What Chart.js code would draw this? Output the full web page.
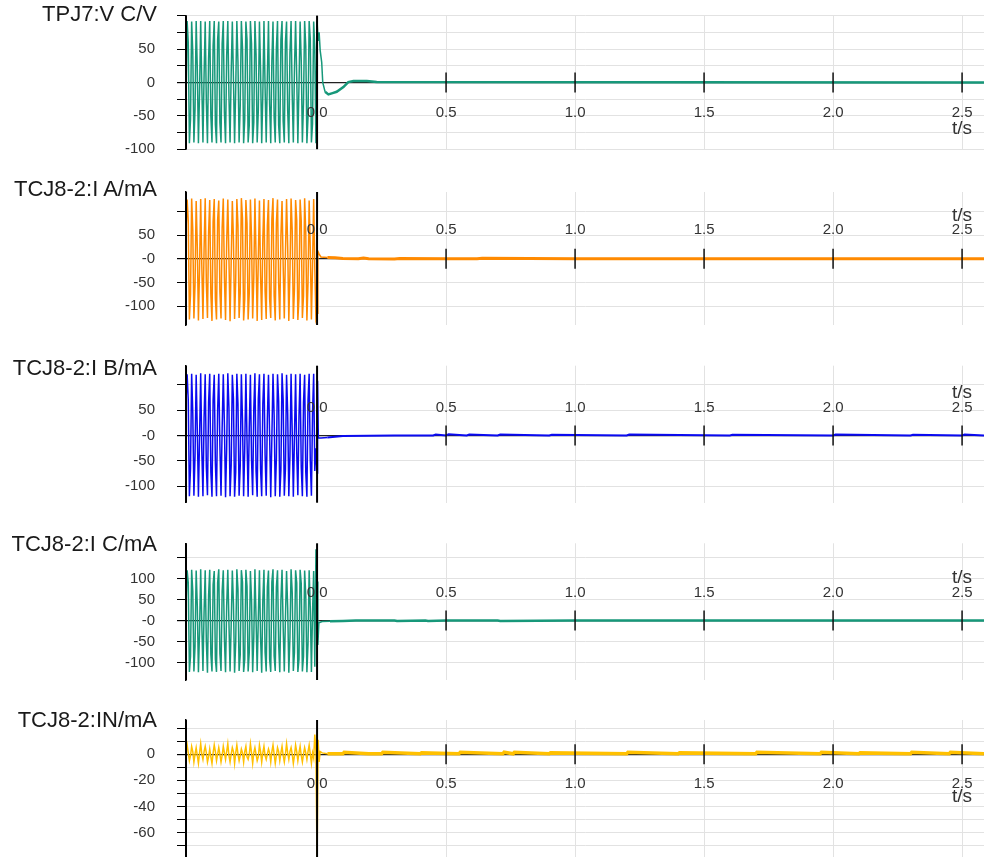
<!DOCTYPE html>
<html><head><meta charset="utf-8">
<script src="https://cdn.jsdelivr.net/npm/chart.js@4.4.1/dist/chart.umd.min.js"></script>
<style>
html,body{margin:0;padding:0;width:984px;height:857px;overflow:hidden;background:#fff;}
canvas{position:absolute;left:0;}
.ttl{position:absolute;right:827px;font-family:"Liberation Sans",Arial,sans-serif;font-size:22px;line-height:22px;color:#1a1a1a;white-space:nowrap;z-index:5;}
</style></head><body>
<script>
// ---------- data ----------
const panelTitles = ['TPJ7:V C/V', 'TCJ8-2:I A/mA', 'TCJ8-2:I B/mA', 'TCJ8-2:I C/mA', 'TCJ8-2:IN/mA'];
const xTickValues = [0, 0.5, 1.0, 1.5, 2.0, 2.5];
const xTickLabels = ['0.0', '0.5', '1.0', '1.5', '2.0', '2.5'];
const xUnitLabel = 't/s';
const xMin = -0.508, xMax = 2.585;
const preStart = -0.508, preEnd = 0;   // pre-fault samples are evenly spaced over this span

// TPJ7:V C
const vcPre = [-30,
 92,60,-91,-55, 91,45,-90,-40, 92,20,-91,-15, 92,-5,-90,10, 91,-30,-91,35,
 92,-50,-90,55, 92,-63,-91,64, 91,-60,-90,58, 92,-45,-91,40, 92,-20,-90,15,
 91,5,-91,-10, 92,30,-90,-35, 92,52,-91,-55, 91,64,-90,-64, 92,58,-91,-60,
 92,42,-90,-42, 91,18,-91,-18, 92,-8,-90,8, 92,-32,-91,32, 91,-52,-90,52,
 92,-64,-91,64, 92,-58,-90,60, 91,-42,-91,44, 92,-18,-90,20, 92,8,-91,-5,
 91,32,-90,-30, 92,54,-91,-52, 92,65,-90,-62, 91,50,-91,92];
const vcPostT = [0.004, 0.008, 0.012, 0.018, 0.022, 0.031, 0.044, 0.06, 0.076, 0.102, 0.121, 0.141, 0.193, 0.231, 2.585];
const vcPostV = [62, 75, 48, 30, 0, -14, -18, -16, -14, -7, 0.5, 2, 2, 0.5, 0];

// TCJ8-2:I A
const iaPre = [55,
 125,80,-128,-75, 127,60,-126,-55, 122,25,-130,-20, 126,-15,-127,20, 128,-50,-125,55,
 124,-75,-131,78, 126,-85,-128,82, 123,-70,-126,65, 127,-40,-129,35, 125,0,-132,-5,
 122,40,-127,-45, 126,70,-125,-72, 128,85,-130,-85, 124,75,-128,-72, 125,45,-126,-40,
 127,5,-131,0, 123,-35,-129,40, 126,-68,-127,70, 124,-84,-125,84, 128,-78,-130,75,
 125,-52,-128,48, 122,-15,-126,10, 126,25,-131,-30, 127,60,-127,-62, 124,82,-129,-82,
 125,80,-125,-78, 128,55,-130,-50, 123,20,-128,-15, 126,-20,-126,-115];
const iaPostT = [0.003, 0.008, 0.015, 0.04, 0.07, 0.1, 0.16, 0.18, 0.2, 0.3, 0.32, 0.5, 0.62, 0.64, 1.0, 1.5, 2.0, 2.585];
const iaPostV = [16, 10, 4, 3, 2, 0.5, 0, 1.5, 0, -0.5, 0.5, 0, 0, 1, 0, 0, 0, 0];

// TCJ8-2:I B
const ibPre = [66,
 121,70,-120,-65, 122,45,-119,-40, 120,10,-121,-5, 123,-30,-120,35, 121,-62,-118,65,
 122,-72,-121,70, 120,-55,-120,50, 122,-20,-119,15, 121,20,-122,-25, 123,55,-120,-58,
 120,72,-121,-72, 122,62,-119,-60, 121,30,-120,-25, 122,-10,-121,15, 120,-48,-118,52,
 123,-70,-121,72, 121,-66,-120,62, 122,-38,-119,32, 120,0,-122,-5, 122,40,-120,-45,
 121,68,-121,-68, 123,70,-119,-66, 120,45,-120,-40, 122,8,-121,-3, 121,-32,-118,38,
 122,-62,-120,65, 120,-72,-121,70, 122,-50,-119,45, 122,-70,-25,-74];
const ibPostT = [0.002, 0.005, 0.015, 0.04, 0.06, 0.1, 0.2, 0.3, 0.45, 0.46, 0.5, 0.51, 0.58, 0.59, 0.7, 0.71, 0.9, 0.91, 1.2, 1.21, 1.6, 1.61, 2.0, 2.01, 2.3, 2.31, 2.5, 2.51, 2.585];
const ibPostV = [108, -5, -5, -4, -3, -1, -0.5, 0, 0, 2, 0, 2.5, 0, 2, 0, 2, 0, 1.5, 0, 2, 0, 1.5, 0, 2, 0, 1.5, 0, 2, 0];

// TCJ8-2:I C
const icPre = [30,
 120,90,-122,-85, 121,70,-121,-62, 119,35,-123,-25, 122,-10,-120,20, 120,-50,-124,60,
 121,-80,-121,85, 118,-92,-122,90, 122,-78,-120,70, 120,-45,-123,35, 121,-5,-121,-10,
 119,40,-124,-52, 122,75,-120,-82, 120,92,-122,-92, 121,82,-121,-75, 118,50,-123,-40,
 122,5,-120,5, 120,-40,-124,48, 121,-75,-121,80, 119,-92,-122,92, 122,-84,-120,80,
 120,-55,-123,48, 121,-15,-121,5, 118,30,-124,-40, 122,68,-120,-75, 120,90,-122,-92,
 121,88,-121,-85, 119,60,-123,-55, 120,30,-122,20, 118,-110,170,93];
const icPostT = [0.003, 0.007, 0.02, 0.05, 0.1, 0.15, 0.3, 0.31, 0.42, 0.43, 0.5, 0.7, 0.71, 1.0, 1.5, 2.0, 2.585];
const icPostV = [-58, -5, -2, -1.5, -1, 0, 0, -1, 0, -1, 0, 0, -1, 0, 0, 0, 0];

// TCJ8-2:IN
const inPre = [2,
 7,1,-5,-1, 6,2,-6,0, 5,-1,-7,1, 8,0,-4,2, 6,1,-6,-2,
 4,-2,-7,1, 7,2,-5,0, 5,0,-6,-1, 6,1,-4,2, 8,-1,-6,0,
 5,2,-7,1, 7,0,-5,-1, 4,1,-6,2, 6,-2,-4,0, 8,1,-7,1,
 5,0,-5,-2, 7,2,-6,1, 6,-1,-4,0, 4,1,-6,2, 7,0,-7,-1,
 5,2,-5,1, 6,-1,-6,0, 8,1,-4,2, 5,0,-7,-1, 7,2,-5,1,
 6,-1,-6,0, 5,1,-4,2, 7,0,-7,1, -3,15,2,-85];
const inPostT = [0.004, 0.008, 0.012, 0.02, 0.04, 0.1, 0.105, 0.2, 0.25, 0.255, 0.4, 0.405, 0.55, 0.555, 0.72, 0.725, 0.76, 0.765, 0.9, 0.905, 1.2, 1.205, 1.4, 1.405, 1.7, 1.705, 1.95, 1.955, 2.1, 2.105, 2.3, 2.305, 2.45, 2.455, 2.585];
const inPostV = [11, -6, 2, 1, 0.3, 0.3, 1.5, 0.3, 0.3, 1.5, 0.3, 1, 0.3, 1.5, 0.3, 1.5, 0.3, 1.5, 0.3, 1, 0.3, 1.5, 0.3, 1, 0.3, 1.5, 0.3, 1.5, 0.3, 1, 0.3, 1.5, 0.3, 1.5, 0.3];

// y-axis ticks and labels
const vcYTicks = [-100, -75, -50, -25, 0, 25, 50, 75, 100];
const vcYLabels = ['-100', '', '-50', '', '0', '', '50', '', ''];
const iaYTicks = [-100, -50, 0, 50, 100];
const iaYLabels = ['-100', '-50', '-0', '50', ''];
const ibYTicks = [-100, -50, 0, 50, 100];
const ibYLabels = ['-100', '-50', '-0', '50', ''];
const icYTicks = [-100, -50, 0, 50, 100, 150];
const icYLabels = ['-100', '-50', '-0', '50', '100', ''];
const inYTicks = [-70, -60, -50, -40, -30, -20, -10, 0, 10, 20];
const inYLabels = ['', '-60', '', '-40', '', '-20', '', '0', '', ''];

// ---------- layout / style ----------
const FONT = '"Liberation Sans", Arial, sans-serif';
const PAD = 45;
const panels = [
  {title: panelTitles[0], color: '#17987a', pre: vcPre, postT: vcPostT, postV: vcPostV, yTicks: vcYTicks, yLabels: vcYLabels,
   min: -100, max: 100, areaTop: 15.6, areaBottom: 149.2, titleTop: 3.3, labelOff: 30, unitOff: 46, wPost: 2.5},
  {title: panelTitles[1], color: '#ff8a00', pre: iaPre, postT: iaPostT, postV: iaPostV, yTicks: iaYTicks, yLabels: iaYLabels,
   min: -139.7, max: 141, areaTop: 192, areaBottom: 325, titleTop: 178.3, labelOff: -29, unitOff: -43, wPost: 3},
  {title: panelTitles[2], color: '#0a0af0', pre: ibPre, postT: ibPostT, postV: ibPostV, yTicks: ibYTicks, yLabels: ibYLabels,
   min: -132.6, max: 137.8, areaTop: 365.7, areaBottom: 502.7, titleTop: 356.8, labelOff: -28, unitOff: -43, wPost: 2},
  {title: panelTitles[3], color: '#17987a', pre: icPre, postT: icPostT, postV: icPostV, yTicks: icYTicks, yLabels: icYLabels,
   min: -141.3, max: 184, areaTop: 543.3, areaBottom: 680, titleTop: 533.3, labelOff: -28, unitOff: -43, wPost: 2.5},
  {title: panelTitles[4], color: '#ffc000', pre: inPre, postT: inPostT, postV: inPostV, yTicks: inYTicks, yLabels: inYLabels,
   min: -78.8, max: 26.2, areaTop: 720, areaBottom: 857, titleTop: 709.3, labelOff: 30, unitOff: 43, wPost: 3.5}
];

const decor = {
  id: 'decor',
  afterDatasetsDraw(chart, args, opts) {
    const ctx = chart.ctx, xs = chart.scales.x, ys = chart.scales.y, a = chart.chartArea;
    const y0 = ys.getPixelForValue(0);
    ctx.save();
    ctx.strokeStyle = '#111';
    ctx.lineWidth = 1.5;
    xTickValues.forEach(v => {
      if (v === 0) return;
      const x = xs.getPixelForValue(v);
      ctx.beginPath(); ctx.moveTo(x, y0 - 10); ctx.lineTo(x, y0 + 10); ctx.stroke();
    });
    ctx.fillStyle = '#333';
    ctx.textAlign = 'center';
    ctx.textBaseline = 'middle';
    ctx.font = '15px ' + FONT;
    xTickValues.forEach((v, i) => ctx.fillText(xTickLabels[i], xs.getPixelForValue(v), y0 + opts.labelOff));
    ctx.font = '19px ' + FONT;
    ctx.fillText(xUnitLabel, xs.getPixelForValue(xTickValues[xTickValues.length - 1]), y0 + opts.unitOff);
    ctx.strokeStyle = '#000';
    ctx.lineWidth = 2;
    const x0 = xs.getPixelForValue(0);
    ctx.beginPath(); ctx.moveTo(x0, a.top); ctx.lineTo(x0, a.bottom); ctx.stroke();
    ctx.beginPath(); ctx.moveTo(a.left, a.top); ctx.lineTo(a.left, a.bottom); ctx.stroke();
    ctx.restore();
  }
};

panels.forEach(p => {
  const t = document.createElement('div');
  t.className = 'ttl';
  t.style.top = p.titleTop + 'px';
  t.textContent = p.title;
  document.body.appendChild(t);

  const cTop = Math.floor(p.areaTop) - PAD;
  const cBottom = Math.ceil(p.areaBottom) + PAD;
  const cH = cBottom - cTop;
  const cv = document.createElement('canvas');
  cv.width = 984; cv.height = cH;
  cv.style.top = cTop + 'px';
  cv.style.width = '984px'; cv.style.height = cH + 'px';
  document.body.appendChild(cv);

  const step = (preEnd - preStart) / (p.pre.length - 1);
  const pts = p.pre.map((v, i) => ({x: preStart + i * step, y: v}));
  p.postT.forEach((tt, i) => pts.push({x: tt, y: p.postV[i]}));

  new Chart(cv, {
    type: 'line',
    data: {datasets: [{
      data: pts, borderColor: p.color, borderWidth: 1.5, pointRadius: 0, tension: 0, fill: false,
      segment: {borderWidth: c => (c.p0.parsed.x >= 0.03 ? p.wPost : 1.5)}
    }]},
    options: {
      responsive: false, animation: false, devicePixelRatio: 1,
      layout: {padding: {top: p.areaTop - cTop, bottom: cBottom - p.areaBottom, left: 0, right: 0}},
      plugins: {legend: {display: false}, tooltip: {enabled: false}, title: {display: false},
                decor: {labelOff: p.labelOff, unitOff: p.unitOff}},
      scales: {
        x: {type: 'linear', min: xMin, max: xMax,
            afterBuildTicks: s => { s.ticks = xTickValues.map(v => ({value: v})); },
            afterFit: s => { s.height = 0; },
            ticks: {display: false}, border: {display: false},
            grid: {drawTicks: false, color: '#e2e2e2', lineWidth: 1}},
        y: {type: 'linear', min: p.min, max: p.max,
            afterBuildTicks: s => { s.ticks = p.yTicks.map(v => ({value: v})); },
            afterFit: s => { s.width = 186; },
            ticks: {autoSkip: false, padding: 22, color: '#333', font: {family: FONT, size: 15},
                    callback: (v, i) => p.yLabels[i]},
            border: {color: '#000', width: 1.5},
            grid: {tickLength: 9, tickColor: '#000',
                   color: c => (c.tick && c.tick.value === 0) ? '#222' : '#e2e2e2',
                   lineWidth: c => (c.tick && c.tick.value === 0) ? 1.2 : 1}}
      }
    },
    plugins: [decor]
  });
});
</script>
</body></html>
